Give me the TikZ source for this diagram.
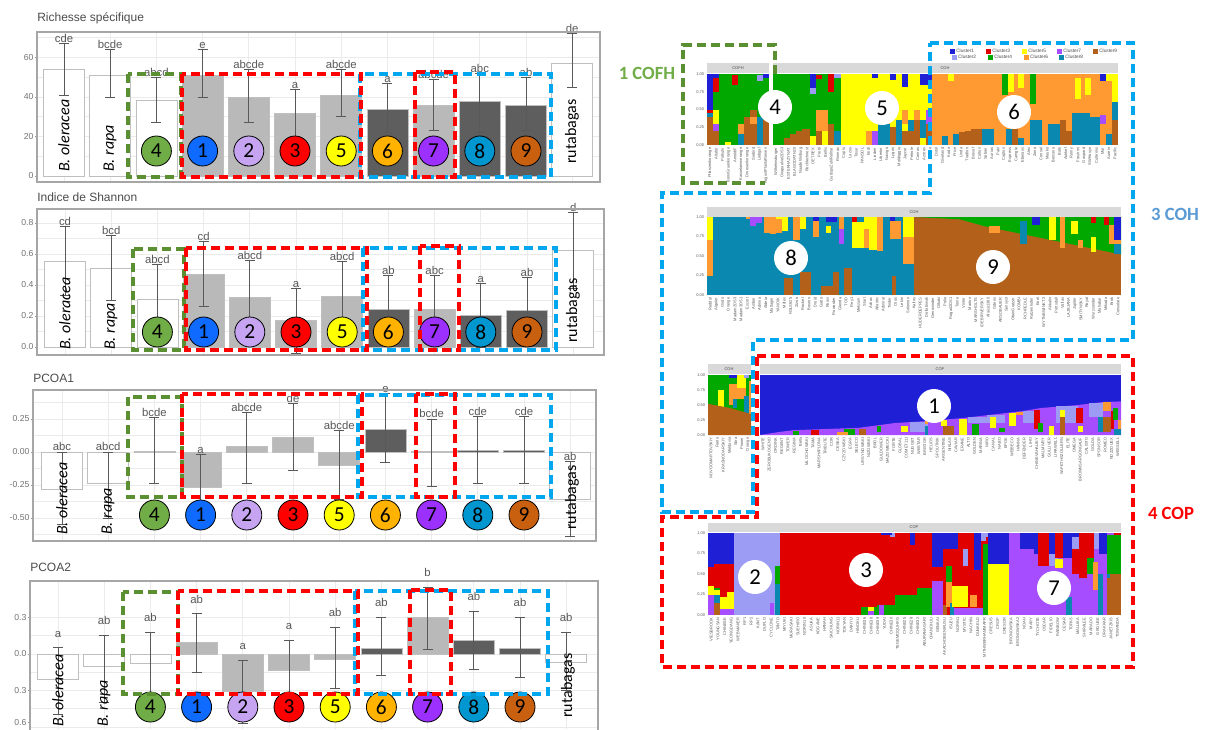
\documentclass[tikz,border=0pt]{standalone}
\usepackage{fontspec}
\setmainfont{Liberation Sans}
\newfontfamily\calfont{Carlito}

% bar fills and group colours
\definecolor{barw}{HTML}{FFFFFF}
\definecolor{barl}{HTML}{B9B9B9}
\definecolor{bard}{HTML}{5E5E5E}
\definecolor{g4}{HTML}{70AD47}
\definecolor{b1}{HTML}{0F6BFF}
\definecolor{p2}{HTML}{C7A4F2}
\definecolor{r3}{HTML}{FF0000}
\definecolor{y5}{HTML}{FFFF00}
\definecolor{o6}{HTML}{FFB300}
\definecolor{v7}{HTML}{9B30FF}
\definecolor{t8}{HTML}{0096CF}
\definecolor{n9}{HTML}{C8600F}
% clusters
\definecolor{cl1}{HTML}{1F1FD6}
\definecolor{cl2}{HTML}{9C9CF5}
\definecolor{cl3}{HTML}{E00000}
\definecolor{cl4}{HTML}{00A800}
\definecolor{cl5}{HTML}{FFFF00}
\definecolor{cl6}{HTML}{FF9A33}
\definecolor{cl7}{HTML}{A64DFF}
\definecolor{cl8}{HTML}{0A88B0}
\definecolor{cl9}{HTML}{B3611A}
% dashed boxes
\definecolor{dgreen}{HTML}{5A8F32}
\definecolor{dred}{HTML}{FF0000}
\definecolor{dblue}{HTML}{00A6EE}
\definecolor{lgreen}{HTML}{70AD47}
\definecolor{lblue}{HTML}{5B9BD5}

\tikzset{
  frm/.style={draw=black!35, line width=1pt},
  grd/.style={draw=black!8, line width=0.5pt},
  ebar/.style={draw=black!65, line width=0.7pt},
  lett/.style={text=black!65, font=\fontsize{8.5}{9}\selectfont, anchor=south, inner sep=0.5pt},
  tick/.style={text=black!55, font=\fontsize{6.5}{7}\selectfont, anchor=east, inner sep=1pt},
  ptitle/.style={text=black!70, font=\fontsize{9}{10}\selectfont, anchor=west, inner sep=0pt},
  spec/.style={font=\calfont\itshape\fontsize{12}{12}\selectfont, rotate=90, anchor=west, inner sep=0pt},
  specup/.style={font=\calfont\fontsize{12}{12}\selectfont, rotate=90, anchor=west, inner sep=0pt},
  grp/.style={circle, draw=black, line width=0.6pt, minimum size=22.5pt, inner sep=0pt, font=\calfont\fontsize{16}{16}\selectfont},
  wgrp/.style={circle, fill=white, minimum size=25.5pt, inner sep=0pt, font=\calfont\fontsize{17}{17}\selectfont},
  dbox/.style={dash pattern=on 7pt off 3.5pt, line width=2.3pt},
  strip/.style={fill=black!15},
  stxt/.style={font=\fontsize{3}{3}\selectfont, text=black!70, inner sep=0pt},
  lgtxt/.style={font=\fontsize{3.6}{3.6}\selectfont, text=black!70, inner sep=0pt, anchor=west},
  smp/.style={font=\fontsize{3}{3}\selectfont, text=black!65, rotate=90, anchor=east, inner sep=0.3pt},
  ytk/.style={font=\fontsize{3}{3}\selectfont, text=black!65, anchor=east, inner sep=0.5pt},
  clab/.style={font=\calfont\bfseries\fontsize{14}{14}\selectfont, inner sep=0pt},
}

\begin{document}
\begin{tikzpicture}[x=0.75pt,y=-0.75pt]
\useasboundingbox (0,0) rectangle (1209,729);
\fill[white] (0,0) rectangle (1209,729);

%%%%%%%%%% Richesse specifique
\node[ptitle] (t1) at (37,18) {Richesse spécifique};
\foreach \i in {0,...,11} \draw[grd] ({64+46.2*\i},32) -- ({64+46.2*\i},182);
\begin{scope}[shift={(0,176)}, yscale=-1.975]
  \foreach \v in {10,20,...,70} \draw[grd] (37,\v) -- (600,\v);
  \foreach \v [count=\k] in {0,20,40,60} {
    \draw[ebar, draw=black!40] (35,\v) -- (37,\v);
    \node[tick] (k1-\k) at (35,\v) {\v};
  }
  \foreach \i/\v/\lo/\hi/\lt/\fc in {0/54/41/67/cde/barw, 1/51/40/64/bcde/barw, 2/38.5/27/50/abcd/barw,
      3/51/40/64/e/barl, 4/40/27/54/abcde/barl, 5/32/20/44/a/barl, 6/41/30/54/abcde/barl,
      7/34/22/47/a/bard, 8/36/23/49/abcde/barl, 9/38/22/52/abc/bard, 10/36/23/50/ab/bard, 11/57/45/72/de/barw} {
    \pgfmathsetmacro\xc{64+46.2*\i}
    \filldraw[fill=\fc, draw=black!25] (\xc-20.5,0) rectangle (\xc+20.5,\v);
    \draw[ebar] (\xc,\lo) -- (\xc,\hi) (\xc-5,\lo) -- (\xc+5,\lo) (\xc-5,\hi) -- (\xc+5,\hi);
    \node[lett] (l1-\i) at (\xc,\hi) {\lt};
  }
\end{scope}
\draw[frm] (37,32) rectangle (600,182);
\node[spec] (ole1) at (64,172) {B. oleracea};
\node[spec] (rap1) at (110,172) {B. rapa};
\node[specup] (rut1) at (572,164) {rutabagas};

%%%%%%%%%% Indice de Shannon
\node[ptitle] (t2) at (37,197) {Indice de Shannon};
\foreach \i in {0,...,11} \draw[grd] ({65+46.2*\i},209) -- ({65+46.2*\i},354);
\begin{scope}[shift={(0,347)}, yscale=-155]
  \foreach \v in {0.1,0.2,...,0.8} \draw[grd] (37,\v) -- (604,\v);
  \foreach \v/\t [count=\k] in {0/0.0, 0.2/0.2, 0.4/0.4, 0.6/0.6, 0.8/0.8} {
    \draw[ebar, draw=black!40] (35,\v) -- (37,\v);
    \node[tick] (k2-\k) at (35,\v) {\t};
  }
  \foreach \i/\v/\lo/\hi/\lt/\fc in {0/0.555/0.33/0.78/cd/barw, 1/0.51/0.30/0.72/bcd/barw, 2/0.31/0.10/0.53/abcd/barw,
      3/0.47/0.26/0.68/cd/barl, 4/0.32/0.08/0.56/abcd/barl, 5/0.17/-0.04/0.38/a/barl, 6/0.33/0.11/0.55/abcd/barl,
      7/0.245/0.03/0.46/ab/bard, 8/0.245/0.04/0.46/abc/barl, 9/0.205/0/0.41/a/bard, 10/0.24/0.03/0.45/ab/bard, 11/0.625/0.38/0.87/d/barw} {
    \pgfmathsetmacro\xc{65+46.2*\i}
    \filldraw[fill=\fc, draw=black!25] (\xc-20.5,0) rectangle (\xc+20.5,\v);
    \draw[ebar] (\xc,\lo) -- (\xc,\hi) (\xc-5,\lo) -- (\xc+5,\lo) (\xc-5,\hi) -- (\xc+5,\hi);
    \node[lett] (l2-\i) at (\xc,\hi) {\lt};
  }
\end{scope}
\draw[frm] (37,209) rectangle (604,355);
\node[spec] (ole2) at (65,350) {B. oleracea};
\node[spec] (rap2) at (111,350) {B. rapa};
\node[specup] (rut2) at (573,343) {rutabagas};

%%%%%%%%%% PCOA1
\node[ptitle] (t3) at (33,378) {PCOA1};
\foreach \i in {0,...,11} \draw[grd] ({62+46.2*\i},390) -- ({62+46.2*\i},541);
\begin{scope}[shift={(0,452)}, yscale=-132]
  \foreach \v in {-0.625,-0.5,...,0.375} \draw[grd] (33,\v) -- (596,\v);
  \foreach \v/\t [count=\k] in {0.25/0.25, 0/0.00, -0.25/-0.25, -0.5/-0.50} {
    \draw[ebar, draw=black!40] (31,\v) -- (33,\v);
    \node[tick] (k3-\k) at (31,\v) {\t};
  }
  \foreach \i/\v/\lo/\hi/\lt/\fc in {0/-0.28/-0.55/0/abc/barw, 1/-0.24/-0.5/0/abcd/barw, 2/0.005/-0.24/0.26/bcde/barw,
      3/-0.27/-0.52/-0.02/a/barl, 4/0.04/-0.24/0.30/abcde/barl, 5/0.11/-0.14/0.37/de/barl, 6/-0.1/-0.36/0.16/abcde/barl,
      7/0.17/-0.08/0.44/e/bard, 8/0.005/-0.26/0.25/bcde/barl, 9/0.012/-0.24/0.27/cde/bard, 10/0.012/-0.24/0.27/cde/bard, 11/-0.36/-0.64/-0.07/ab/barw} {
    \pgfmathsetmacro\xc{62+46.2*\i}
    \filldraw[fill=\fc, draw=black!25] (\xc-20.5,0) rectangle (\xc+20.5,\v);
    \draw[ebar] (\xc,\lo) -- (\xc,\hi) (\xc-5,\lo) -- (\xc+5,\lo) (\xc-5,\hi) -- (\xc+5,\hi);
    \node[lett] (l3-\i) at (\xc,\hi) {\lt};
  }
\end{scope}
\draw[frm] (33,390) rectangle (596,541);
\node[spec] (ole3) at (62,535) {B. oleracea};
\node[spec] (rap3) at (108,535) {B. rapa};
\node[specup] (rut3) at (572,530) {rutabagas};

%%%%%%%%%% PCOA2
\node[ptitle] (t4) at (30,567) {PCOA2};
\foreach \i in {0,...,11} \draw[grd] ({58+46.2*\i},581) -- ({58+46.2*\i},729);
\begin{scope}[shift={(0,654)}, yscale=-121.7]
  \foreach \v in {-0.6,-0.45,...,0.45} \draw[grd] (30,\v) -- (598,\v);
  \foreach \v/\t [count=\k] in {0.3/0.3, 0/0.0, -0.3/0.3, -0.56/0.6} {
    \draw[ebar, draw=black!40] (28,\v) -- (30,\v);
    \node[tick] (k4-\k) at (28,\v) {\t};
  }
  \foreach \i/\v/\lo/\hi/\lt/\fc in {0/-0.21/-0.5/0.05/a/barw, 1/-0.1/-0.4/0.15/ab/barw, 2/-0.075/-0.33/0.18/ab/barw,
      3/0.1/-0.15/0.33/ab/barl, 4/-0.31/-0.57/-0.05/a/barl, 5/-0.13/-0.38/0.11/a/barl, 6/-0.04/-0.28/0.22/ab/barl,
      7/0.05/-0.18/0.3/ab/bard, 8/0.3/0.04/0.55/b/barl, 9/0.11/-0.13/0.35/ab/bard, 10/0.05/-0.19/0.3/ab/bard, 11/-0.07/-0.3/0.18/ab/barw} {
    \pgfmathsetmacro\xc{58+46.2*\i}
    \filldraw[fill=\fc, draw=black!25] (\xc-20.5,0) rectangle (\xc+20.5,\v);
    \draw[ebar] (\xc,\lo) -- (\xc,\hi) (\xc-5,\lo) -- (\xc+5,\lo) (\xc-5,\hi) -- (\xc+5,\hi);
    \node[lett] (l4-\i) at (\xc,\hi+0.08) {\lt};
  }
\end{scope}
\draw[frm] (30,740) -- (30,581) -- (598,581) -- (598,740);
\node[spec] (ole4) at (58,727) {B. oleracea};
\node[spec] (rap4) at (104,727) {B. rapa};
\node[specup] (rut4) at (568,718) {rutabagas};

%%%%%%%%%% group circles
\foreach \p/\xo/\yc in {1/64/151, 2/65/332, 3/62/515, 4/58/707}
  \foreach \i/\n/\c in {2/4/g4, 3/1/b1, 4/2/p2, 5/3/r3, 6/5/y5, 7/6/o6, 8/7/v7, 9/8/t8, 10/9/n9}
    \node[grp, fill=\c] (c\p-\n) at ({\xo+46.2*\i},\yc) {\n};

%%%%%%%%%% dashed boxes, left
\draw[dbox, dgreen] (128,74) rectangle (181,177);
\draw[dbox, dblue] (360,74) rectangle (551,177);
\draw[dbox, dred] (182,74) rectangle (361,177);
\draw[dbox, dred] (415,72) rectangle (455,177);
%
\draw[dbox, dgreen] (133,249) rectangle (184,350);
\draw[dbox, dblue] (363,248) rectangle (556,350);
\draw[dbox, dred] (186,248) rectangle (367,350);
\draw[dbox, dred] (420,246) rectangle (459,350);
%
\draw[dbox, dgreen] (128,397) rectangle (182,497);
\draw[dbox, dblue] (358,395) rectangle (551,497);
\draw[dbox, dred] (182,394) rectangle (362,497);
\draw[dbox, dred] (416,394) rectangle (455,497);
%
\draw[dbox, dgreen] (123,592) rectangle (178,694);
\draw[dbox, dblue] (355,591) rectangle (548,694);
\draw[dbox, dred] (178,591) rectangle (358,694);
\draw[dbox, dred] (410,590) rectangle (451,694);

%%%%%%%%%% structure plot A (COFH / COH)
\begin{scope}[shift={(0,145)}, yscale=-71]
  \fill[cl4] (707,0) rectangle (769,1);
  \fill[cl4] (773,0) rectangle (841,1);
  \fill[cl5] (841,0) rectangle (932,1);
  \fill[cl6] (932,0) rectangle (1118,1);
  \foreach \c/\a/\b/\p/\q in {cl1/707/713/0.5/1, cl3/707/713/0.45/0.5, cl8/707/713/0.4/0.45, cl9/707/713/0/0.4,
      cl1/713/719/0.95/1, cl3/713/719/0.75/0.95, cl5/713/719/0.3/0.5, cl7/713/719/0.2/0.3, cl9/713/719/0/0.2,
      cl3/732/738/0.85/0.98, cl5/725/731/0/0.04, cl8/738/744/0/0.15, cl6/738/744/0.15/0.3,
      cl9/744/750/0/0.4, cl9/750/757/0/0.5, cl6/750/757/0.3/0.4, cl8/757/763/0/0.4, cl2/757/763/0.9/0.98,
      cl1/763/769/0.95/1, cl9/763/769/0/0.35,
      cl9/784/790/0/0.1, cl9/790/796/0/0.15, cl9/796/802/0/0.2, cl9/802/810/0/0.22,
      cl1/810/816/0.8/1, cl2/810/816/0.72/0.8, cl5/810/816/0/0.12, cl3/816/822/0.93/0.98, cl9/816/822/0/0.2,
      cl6/816/828/0.2/0.5, cl5/822/828/0/0.2, cl3/828/834/0.75/1, cl9/828/834/0/0.3, cl2/834/841/0.95/1, cl8/834/841/0/0.2,
      cl1/872/878/0.95/1, cl1/890/896/0.92/1, cl1/902/908/0.82/1, cl1/920/932/0.85/1,
      cl6/866/872/0/0.2, cl7/872/878/0/0.2, cl8/878/890/0/0.3, cl6/884/890/0.3/0.45, cl9/890/896/0/0.25,
      cl8/896/902/0/0.35, cl6/902/908/0.3/0.5, cl9/902/914/0/0.2, cl8/908/914/0.2/0.35, cl9/914/920/0/0.35,
      cl6/914/920/0.35/0.5, cl8/920/926/0.1/0.35, cl9/926/932/0/0.3, cl7/926/932/0.3/0.5,
      cl8/942/948/0/0.12, cl8/953/959/0/0.15, cl9/959/965/0/0.18, cl9/965/971/0/0.2, cl9/971/982/0/0.22,
      cl8/982/994/0/0.22, cl8/1006/1012/0/0.22, cl9/1012/1018/0/0.25, cl8/1018/1024/0/0.1, cl8/1030/1042/0/0.35,
      cl8/1048/1060/0/0.3, cl9/1060/1066/0/0.35, cl9/1066/1072/0/0.2, cl8/1072/1090/0/0.45, cl8/1090/1100/0/0.4,
      cl7/1100/1106/0.3/0.42, cl8/1106/1112/0/0.15, cl9/1112/1118/0/0.35, cl8/1112/1118/0.35/0.6,
      cl5/948/954/0.9/1, cl4/1002/1008/0.7/1, cl5/1008/1014/0.75/1, cl5/1018/1024/0.8/1, cl4/1030/1036/0.58/1,
      cl5/1075/1081/0.65/0.95, cl5/1085/1091/0.7/0.95, cl1/1100/1106/0.9/1, cl5/1106/1112/0.9/1, cl5/1112/1118/0.6/1}
    \fill[fill=\c] (\a,\p) rectangle (\b,\q);
  \foreach \v [count=\k] in {0.00,0.25,0.50,0.75,1.00} \node[ytk] (ya\k) at (705,\v) {\v};
\end{scope}
\fill[strip] (707,63) rectangle (769,73);
\fill[strip] (773,63) rectangle (1118,73);
\node[stxt] (hA1) at (738,68) {COFH};
\node[stxt] (hA2) at (945,68) {COH};
\foreach \x/\y/\c/\t in {950/51/cl1/Cluster1, 952/57/cl2/Cluster2, 986/51/cl3/Cluster3, 988/57/cl4/Cluster4,
    1022/51/cl5/Cluster5, 1024/57/cl6/Cluster6, 1057/51/cl7/Cluster7, 1059/57/cl8/Cluster8, 1093/51/cl9/Cluster9} {
  \fill[fill=\c] (\x,\y-2.5) rectangle (\x+5,\y+2.5);
  \node[lgtxt] (lg\t) at (\x+6,\y) {\t};
}
\foreach \n [count=\k] in {Pflanzenkorange,Altafor,Polkuhr,BonnGruenkorange,ArnoldiF,Kasselamwerange,Druesenkorange,Siebird,Liebgaf,AugustPlantaRiesen}
  \node[smp] (sa\k) at ({707+6.2*(\k-0.5)},147) {\n};
\foreach \n [count=\k] in {Wilhelmsburger,Oirapaelvel2DS3,ESTERHAZYNAT,BLAGODATNOI,Naadehlinburg,Rochlechnest,OETREX,Prebl,Bellis,GudspoZuhlRellrar,Rinmas,Cuplu,Lazus,Tosur,PANSOL,Endi,Linderr,Libertor,Navigo,Lygos,Moldoggie,Jaycor,Petrole,Conras,Azores,Jaune,Dstol,Giveland,Koda,Price,Linda,Tradlon,Brovof,Colton,Sobrer,Aurias,Paki,Capton,Express,Camgle,Eberans,Alex,Zono,Consel,Mauko,Bercono,Bolk,Ashkef,Romy,Freshmi,Gaspard,SWKosyn,Cultemis,Mar,Aurein,Pacific}
  \node[smp] (sb\k) at ({773+6.16*(\k-0.5)},147) {\n};

%%%%%%%%%% structure plot B (COH)
\begin{scope}[shift={(0,295)}, yscale=-78]
  \fill[cl8] (707,0) rectangle (914,1);
  \fill[cl9] (914,0) rectangle (1121,1);
  \fill[cl4] (914,1) -- (960,0.97) -- (985,0.88) -- (1121,0.52) -- (1121,1) -- cycle;
  \foreach \c/\a/\b/\p/\q in {cl5/707/713/0.7/1, cl6/707/713/0.25/0.7,
      cl6/746/750/0.97/1, cl7/750/756/0.88/1, cl7/756/762/0.92/1, cl6/764/770/0.8/1, cl6/770/776/0.78/1,
      cl6/776/782/0.8/0.97, cl5/776/782/0.97/1, cl5/782/788/0.82/1, cl6/793/800/0.7/1, cl5/800/806/0.85/1,
      cl1/813/819/0.95/1, cl6/813/819/0.75/0.95, cl1/826/837/0.93/1, cl5/826/831/0.8/0.88,
      cl6/839/844/0.85/1, cl7/839/844/0.65/0.85, cl3/852/857/0.93/1, cl5/852/864/0.6/0.93,
      cl6/864/869/0.6/0.85, cl5/864/869/0.85/1, cl5/869/877/0.58/1, cl6/877/883/0.57/1,
      cl1/890/895/0.95/1, cl6/890/901/0.72/0.95, cl5/903/914/0.75/1, cl6/903/914/0.4/0.75,
      cl9/784/793/0/0.22, cl9/800/811/0/0.3, cl9/821/833/0/0.12, cl9/833/839/0/0.3, cl9/844/852/0/0.35, cl9/892/896/0/0.25,
      cl6/989/1000/0.8/0.88, cl8/1020/1027/0.65/0.95, cl1/1032/1040/0.9/1, cl5/1049/1056/0.7/1,
      cl6/1060/1065/0.6/1, cl5/1071/1078/0.78/0.95, cl6/1078/1083/0.6/0.7, cl5/1091/1096/0.55/0.75,
      cl3/1091/1096/0.92/1, cl3/1104/1109/0.9/1, cl6/1109/1114/0.65/0.9, cl1/1114/1121/0.7/1,
      cl6/1114/1121/0.65/0.7, cl8/1114/1121/0.52/0.65}
    \fill[fill=\c] (\a,\p) rectangle (\b,\q);
  \foreach \v [count=\k] in {0.00,0.25,0.50,0.75,1.00} \node[ytk] (yb\k) at (705,\v) {\v};
\end{scope}
\fill[strip] (707,207) rectangle (1121,217);
\node[stxt] (hB) at (914,212) {COH};
\foreach \n [count=\k] in {Reddel,Algeler,Ondo,Orange,Madam2DS3,Madam3DS1,Escort,Amber,Admira,Aldeia,Mattager,YANOIK,Miltex,NSLS625,Zizoo,Rocket,Boston,Droid,Gatto,Rooxi,Rowarder,Glenda,TOD,Rey1,Mekzum,Start,Adrac,Atlantic,Admiral,Tinder,Otos,Lekin,Solomon,Kaltos,HUDERDEPPES,Dollabiwak,Genovinder,Olkaki,Polio,Rogait2DS1,Tome,Vinter,Marton,MARSHOLTS,IDEBIRVERSKY,Afaice1380,Odens,ARSOBAUER,Sunsyst,ObenGratzer,KOMBI,RCHPEDLE,Ratzenhofer,Enol,WYTNBWINKT2,Akkalin,Portsdall,Valtas,LAJBJANA,Jupiter,SMITYNSKY,Royal,Wurzsonder,Mahabar,Mikado,Brok,Consolate}
  \node[smp] (sc\k) at ({707+6.18*(\k-0.5)},297) {\n};

%%%%%%%%%% structure plot C (COH / COP)
\begin{scope}[shift={(0,435)}, yscale=-60]
  \fill[cl4] (708,0) rectangle (751,1);
  \foreach \c/\a/\b/\p/\q in {cl5/718/724/0.45/0.75, cl6/729/737/0.5/0.85, cl1/729/737/0.95/1, cl8/733/737/0.45/0.6,
      cl5/737/746/0.78/1, cl6/737/746/0.6/0.78, cl8/744/749/0.35/0.65, cl2/744/749/0.95/1, cl6/749/751/0.3/0.9}
    \fill[fill=\c] (\a,\p) rectangle (\b,\q);
  \fill[cl9] (708,0) -- (708,0.52) -- (730,0.45) -- (751,0.35) -- (751,0) -- cycle;
  \fill[cl1] (760,0) rectangle (1121,1);
  \fill[cl7] (760,0) -- (779,0.05) -- (793,0.08) -- (859,0.12) -- (895,0.2) -- (925,0.23) -- (961,0.28) -- (987,0.33)
    -- (1023,0.4) -- (1041,0.45) -- (1078,0.5) -- (1103,0.55) -- (1121,0.56) -- (1121,0) -- cycle;
  \foreach \c/\a/\b/\p/\q in {cl2/910/928/0.05/0.22, cl2/968/987/0.2/0.3, cl2/987/1005/0.2/0.33, cl2/1023/1034/0.2/0.4,
      cl2/1056/1078/0.2/0.48, cl2/1089/1103/0.3/0.53,
      cl3/811/819/0/0.08, cl3/1034/1040/0.1/0.42, cl3/1076/1083/0.2/0.45, cl3/1111/1114/0.1/0.4,
      cl5/901/908/0.05/0.15, cl5/941/947/0.15/0.25, cl5/959/967/0/0.27, cl5/990/996/0.12/0.3, cl5/1009/1016/0.15/0.36,
      cl5/1049/1054/0/0.15, cl5/1060/1065/0.3/0.42, cl5/1078/1083/0.05/0.15,
      cl4/793/799/0/0.07, cl4/844/855/0/0.1, cl4/877/881/0.05/0.15, cl4/972/979/0/0.18, cl4/999/1005/0.05/0.12,
      cl4/1038/1043/0.05/0.2, cl4/1113/1118/0.25/0.45,
      cl6/837/848/0/0.05, cl6/925/928/0.18/0.23, cl6/1016/1023/0.33/0.39, cl6/1103/1111/0.4/0.55, cl6/1118/1121/0.1/0.25,
      cl8/925/928/0/0.15, cl8/1098/1103/0.05/0.3, cl8/1114/1121/0/0.1,
      cl9/859/866/0/0.1, cl9/943/954/0/0.15, cl9/1060/1065/0/0.3, cl9/1103/1111/0.05/0.3}
    \fill[fill=\c] (\a,\p) rectangle (\b,\q);
  \foreach \v [count=\k] in {0.00,0.25,0.50,0.75,1.00} \node[ytk] (yc\k) at (706,\v) {\v};
\end{scope}
\fill[strip] (708,364) rectangle (751,374);
\fill[strip] (760,364) rectangle (1121,374);
\node[stxt] (hC1) at (729,369) {COH};
\node[stxt] (hC2) at (940,369) {COP};
\foreach \n [count=\k] in {NOVOOMARTOVSKIY,Foeto,KRASNODARSKIY,Moldavia,Stira,Pioner,Orange}
  \node[smp] (sd\k) at ({708+6.14*(\k-0.5)},437) {\n};
\foreach \n [count=\k] in {WHITE,ZEROBUKOGENO,ORDINK,REGENT,TOWER,REGINA,Bella,MLOCHOWSKI,TAMA,MARSHAPLONA,TRIBUTE,COR,CESKA,CZYZOWSKI,EGRA,SELECO,URSYNOWSKI,NIZOWSKI,BROL,GULDOWER,MAZOWIECKI,FORTE,GLOBAL,COMET111,NUGGET,WESTAR,BRISTOR,HELIOS,SPOUTNIK,ARGENTINE,NIKLAS,CAVIAR,ERANE,ALTO,GOLDEN,MARINA,NIRO,CANAL,NABO,EPOK,WEIBECO,HANNA,DEFENDER,LIHO,CHINEVAHALIEY,MALMIVRY,GULLIVER,LIRAWELL,SAPETHSZOLLERN,ELITE,OMEGA,BROWNSARGONGAUF,CALISTO,GOLDA,SPONSOR,ROMEO,NOZZOUEX,WESSELL}
  \node[smp] (se\k) at ({760+6.22*(\k-0.5)},437) {\n};

%%%%%%%%%% structure plot D (COP)
\begin{scope}[shift={(0,615)}, yscale=-82]
  \fill[cl3] (708,0) rectangle (734,1);
  \fill[cl2] (734,0) rectangle (780,1);
  \fill[cl3] (780,0) rectangle (988,1);
  \fill[cl1] (988,0) rectangle (1009,1);
  \fill[cl7] (1009,0) rectangle (1121,1);
  \foreach \c/\a/\b/\p/\q in {cl1/708/714/0.58/1, cl1/714/734/0.62/1, cl7/708/714/0/0.25, cl5/708/714/0.25/0.35,
      cl9/714/720/0/0.15, cl8/714/720/0.15/0.25, cl5/714/720/0.25/0.3, cl4/714/720/0.3/0.33,
      cl7/720/734/0/0.07, cl5/720/727/0.07/0.22, cl5/727/734/0.07/0.28,
      cl4/775/780/0.38/0.6, cl8/775/780/0/0.38, cl7/770/774/0/0.15,
      cl4/861/877/0/0.1, cl4/877/895/0/0.12, cl4/895/917/0/0.25, cl4/917/932/0/0.33, cl7/879/884/0/0.12,
      cl5/868/874/0.05/0.1, cl7/868/874/0/0.05, cl2/890/895/0.95/1, cl1/910/915/0.85/1, cl1/881/892/0.98/1,
      cl7/932/943/0/0.42, cl1/932/943/0.58/1,
      cl1/943/958/0.8/1, cl9/943/947/0/0.12, cl4/946/952/0.2/0.6, cl6/946/952/0.1/0.4, cl8/950/954/0/0.15,
      cl5/952/968/0.1/0.35, cl7/954/983/0/0.08, cl2/963/968/0.6/0.8, cl1/974/981/0.55/1, cl2/981/986/0.9/1,
      cl6/970/977/0.1/0.25, cl4/983/988/0/0.87, cl2/983/988/0.95/1, cl5/988/1009/0/0.62,
      cl1/1020/1034/0.8/1, cl1/1034/1038/0.75/1, cl3/1038/1049/0.6/1, cl1/1049/1058/0.75/1, cl2/1049/1058/0.6/0.75,
      cl3/1055/1063/0.7/1, cl5/1055/1063/0.57/0.68, cl1/1063/1072/0.7/1, cl8/1066/1072/0/0.22,
      cl2/1072/1079/0.8/0.95, cl1/1072/1079/0.95/1, cl3/1072/1079/0.5/0.8, cl3/1079/1087/0.45/1,
      cl3/1087/1094/0.7/1, cl4/1087/1094/0.5/0.7, cl6/1093/1098/0.3/0.65, cl2/1094/1099/0.8/1,
      cl8/1098/1103/0/0.5, cl1/1099/1107/0.75/1, cl4/1107/1121/0.5/0.97, cl9/1107/1121/0/0.5,
      cl3/1114/1121/0.97/1, cl8/1107/1110/0.45/0.5}
    \fill[fill=\c] (\a,\p) rectangle (\b,\q);
  \foreach \v [count=\k] in {0.00,0.25,0.50,0.75,1.00} \node[ytk] (yd\k) at (706,\v) {\v};
\end{scope}
\fill[strip] (708,523) rectangle (1121,532);
\node[stxt] (hD) at (914,527.5) {COP};
\foreach \n [count=\k] in {VIESBROOK,YOUNGSAN,CHINESE,YEONGDANG,WEBMAKER,RP1,RP2,KANT,DUPLO,CYCLONE,TANTO,MIYUKI,MURASAKI,SUEHIRO,NORIN10,ASUKA,KOGANE,HANAH,SAICHUNG,NORIN11,TOKYAN,DAIHYU,HINOKU,CHINE36,CHINE38,CHINE39,YUDAI,CHINE30,TEGEMOQUHKG,CHINE25,CHINE28,CHINE32,ABURANAGARI,CHANOHJU,GENKAI,AKACHOBENIKUSU,ISUZU,NORIN1,MYSTIC,NACHIN,DUNKELD,MITHWERHAMMAPR,CRESUS,CROP,CRESOR,BRONOWSKA,BRONOWSKA2,NOAH,MARY,TYCHOTE,OSCAR,FIDELIO,RAINBOW,CESAR,TOPAS,MALLIKA,SHIRALEE,MARADO,GROUSE,DRAKKAR,JANETZKIS,TOWANDA}
  \node[smp] (sf\k) at ({708+6.66*(\k-0.5)},617) {\n};

%%%%%%%%%% cluster numbers
\node[wgrp] (w4) at (775,107) {4};
\node[wgrp] (w5) at (882,108) {5};
\node[wgrp] (w6) at (1014,112) {6};
\node[wgrp] (w8) at (791,258) {8};
\node[wgrp] (w9) at (993,267) {9};
\node[wgrp] (w1) at (934,406) {1};
\node[wgrp] (w2) at (755,577) {2};
\node[wgrp] (w3) at (866,570) {3};
\node[wgrp] (w7) at (1054,588) {7};

%%%%%%%%%% dashed boxes, right
\draw[dbox, dgreen] (775,74) -- (775,45) -- (683,45) -- (683,183) -- (765,183);
\draw[dbox, dblue] (930,43) -- (1133,43) -- (1133,340) -- (753,340) -- (753,512) -- (662,512) -- (662,193) -- (930,193) -- cycle;
\draw[dbox, dred] (757,356) -- (1133,356) -- (1133,667) -- (662,667) -- (662,517) -- (757,517) -- cycle;
\node[clab, text=lgreen] (cofh) at (647,73) {1 COFH};
\node[clab, text=lblue] (coh) at (1175,214) {3 COH};
\node[clab, text=dred] (cop) at (1171,513) {4 COP};
\end{tikzpicture}
\end{document}
